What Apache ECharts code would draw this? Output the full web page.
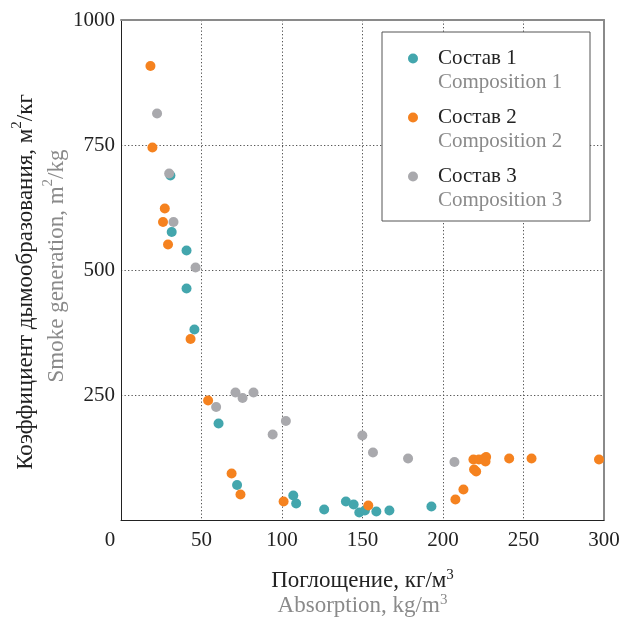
<!DOCTYPE html>
<html><head><meta charset="utf-8">
<script src="https://cdn.jsdelivr.net/npm/echarts@6/dist/echarts.min.js"></script>
<style>html,body{margin:0;padding:0;background:#fff}#c{width:620px;height:623px}</style>
</head><body><div id="c"></div>
<script>
const seriesNames = ['Состав 1', 'Состав 2', 'Состав 3'];
const seriesNamesEn = ['Composition 1', 'Composition 2', 'Composition 3'];
const seriesColors = ['#43a6ad', '#f5821f', '#a9a9ad'];

const comp1X = [30.7, 31.5, 40.7, 40.7, 45.6, 60.6, 72.1, 107, 108.8, 126.2, 139.7, 144.5, 148, 151.5, 158.6, 166.7, 192.8];
const comp1Y = [689, 576, 539, 463, 381, 193, 70, 49, 33, 21, 37, 31, 15, 19, 17, 19, 27];

const comp2X = [18.3, 19.5, 27.2, 26.1, 29.2, 43.2, 54.1, 68.7, 74.2, 101, 153.6, 207.7, 212.7, 219.3, 220.6, 218.9, 222.3, 225.6, 226.8, 226.4, 241.1, 255, 296.9];
const comp2Y = [908, 745, 623, 596, 551, 362, 239, 93, 51, 37, 29, 41, 61, 101, 97, 121, 121, 123, 126, 117, 123, 123, 121];

const comp3X = [22.4, 29.9, 32.6, 46.3, 59.1, 71.1, 75.5, 82.3, 94.2, 102.4, 149.9, 156.5, 178.3, 207.1];
const comp3Y = [813, 693, 596, 505, 226, 255, 244, 255, 171, 198, 169, 135, 123, 116];

const xTicks = { min: 0, max: 300, interval: 50 };
const yTicks = { min: 0, max: 1000, interval: 250 };

const xTitle = ['Поглощение, кг/м', 'Absorption, kg/m', '3'];
const yTitle = ['Коэффициент дымообразования, м', '/кг', 'Smoke generation, m', '/kg', '2'];

const FONT = 'Liberation Serif';
const DARK = '#222';
const GREY = '#8a8a8a';

function zip(xs, ys) { return xs.map((x, i) => [x, ys[i]]); }
const allData = [zip(comp1X, comp1Y), zip(comp2X, comp2Y), zip(comp3X, comp3Y)];

const xNameRich = {
  a: { fontFamily: FONT, fontSize: 23, color: DARK, lineHeight: 25 },
  as: { fontFamily: FONT, fontSize: 15, color: DARK, lineHeight: 15, verticalAlign: 'top' },
  b: { fontFamily: FONT, fontSize: 23, color: GREY, lineHeight: 25 },
  bs: { fontFamily: FONT, fontSize: 15, color: GREY, lineHeight: 15, verticalAlign: 'top' }
};
const yNameRich = {
  a: { fontFamily: FONT, fontSize: 23, color: DARK, lineHeight: 31 },
  as: { fontFamily: FONT, fontSize: 15, color: DARK, lineHeight: 22, verticalAlign: 'top' },
  ae: { fontFamily: FONT, fontSize: 23, color: DARK, lineHeight: 31, padding: [0, 24, 0, 0] },
  b: { fontFamily: FONT, fontSize: 23, color: GREY, lineHeight: 31 },
  bb: { fontFamily: FONT, fontSize: 23, color: GREY, lineHeight: 31, padding: [0, 0, 0, 8] },
  bs: { fontFamily: FONT, fontSize: 15, color: GREY, lineHeight: 22, verticalAlign: 'top' }
};

const splitStyle = { lineStyle: { type: [1.3, 2.2], color: '#555', width: 1 }, showMinLine: false, showMaxLine: false };

const chart = echarts.init(document.getElementById('c'), null, { renderer: 'canvas' });
chart.setOption({
  animation: false,
  backgroundColor: '#fff',
  grid: { left: 121, right: 16, top: 20, bottom: 103, containLabel: false, outerBoundsMode: 'none' },
  legend: {
    orient: 'vertical',
    left: 408,
    top: 48,
    padding: 0,
    itemGap: 14,
    itemWidth: 10,
    itemHeight: 10,
    icon: 'circle',
    z: 10,
    data: seriesNames,
    formatter: function (n) {
      const i = seriesNames.indexOf(n);
      return '{a|' + n + '}\n{b|' + seriesNamesEn[i] + '}';
    },
    textStyle: {
      padding: [24, 0, 0, 15],
      rich: {
        a: { fontFamily: FONT, fontSize: 21, color: DARK, lineHeight: 24 },
        b: { fontFamily: FONT, fontSize: 21, color: GREY, lineHeight: 24 }
      }
    }
  },
  graphic: [{
    type: 'rect', z: 5,
    shape: { x: 382, y: 32, width: 208, height: 189 },
    style: { fill: '#fff', stroke: '#555', lineWidth: 1 }
  }],
  xAxis: [{
    type: 'value', min: xTicks.min, max: xTicks.max, interval: xTicks.interval, position: 'bottom',
    axisLine: { onZero: false, lineStyle: { color: DARK, width: 1 } },
    axisTick: { show: false },
    axisLabel: {
      margin: 10, fontFamily: FONT, fontSize: 21, color: DARK,
      formatter: function (v) { return v === 0 ? '{z|0}' : String(v); },
      rich: { z: { fontFamily: FONT, fontSize: 21, color: DARK, padding: [0, 22, 0, 0] } }
    },
    splitLine: splitStyle,
    name: '{a|' + xTitle[0] + '}{as|' + xTitle[2] + '}\n{b|' + xTitle[1] + '}{bs|' + xTitle[2] + '}',
    nameLocation: 'middle', nameGap: 48,
    nameMoveOverlap: false,
    nameTextStyle: { rich: xNameRich }
  }, {
    type: 'value', min: xTicks.min, max: xTicks.max, position: 'top',
    axisLine: { show: true, onZero: false, lineStyle: { color: GREY, width: 2 } },
    axisTick: { show: false }, axisLabel: { show: false }, splitLine: { show: false }
  }],
  yAxis: [{
    type: 'value', min: yTicks.min, max: yTicks.max, interval: yTicks.interval, position: 'left',
    axisLine: { show: true, onZero: false, lineStyle: { color: DARK, width: 1 } },
    axisTick: { show: false },
    axisLabel: { margin: 6, fontFamily: FONT, fontSize: 21, color: DARK, showMinLabel: false,
      formatter: function (v) { return String(v); } },
    splitLine: splitStyle,
    name: '{a|' + yTitle[0] + '}{as|' + yTitle[4] + '}{ae|' + yTitle[1] + '}\n{bb|' + yTitle[2] + '}{bs|' + yTitle[4] + '}{b|' + yTitle[3] + '}',
    nameLocation: 'middle', nameGap: 49,
    nameMoveOverlap: false,
    nameTextStyle: { rich: yNameRich }
  }, {
    type: 'value', min: yTicks.min, max: yTicks.max, position: 'right',
    axisLine: { show: true, onZero: false, lineStyle: { color: GREY, width: 2 } },
    axisTick: { show: false }, axisLabel: { show: false }, splitLine: { show: false }
  }],
  series: allData.map((d, i) => ({
    name: seriesNames[i],
    type: 'scatter',
    symbol: 'circle',
    symbolSize: 10,
    itemStyle: { color: seriesColors[i], opacity: 1 },
    data: d
  }))
});
</script>
</body></html>
